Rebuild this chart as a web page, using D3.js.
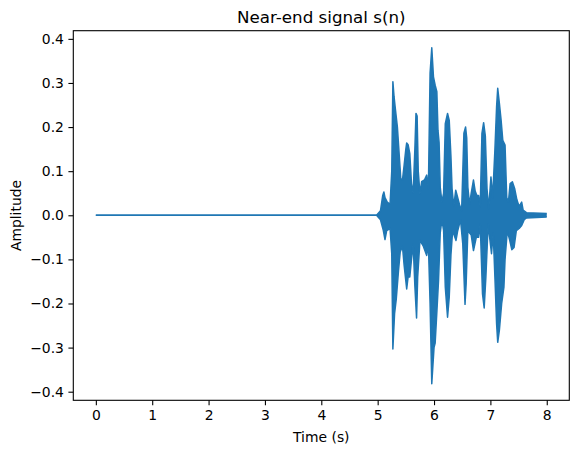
<!DOCTYPE html>
<html><head><meta charset="utf-8">
<script src="https://cdn.jsdelivr.net/npm/d3@7/dist/d3.min.js"></script>
<style>body{margin:0;background:#fff}svg text{font-family:"DejaVu Sans",sans-serif;fill:#000}</style>
</head><body><svg id="c" width="579" height="453"></svg>
<script>
// Upper envelope of the waveform (time in s, amplitude)
const upperTime = [0,4.98,5.05,5.09,5.11,5.13,5.17,5.22,5.25,5.27,5.29,5.31,5.35,5.385,5.41,5.44,5.47,5.50,5.515,5.54,5.57,5.60,5.63,5.66,5.68,5.70,5.72,5.75,5.78,5.83,5.87,5.90,5.93,5.96,5.99,6.02,6.05,6.07,6.09,6.11,6.14,6.17,6.20,6.24,6.27,6.30,6.32,6.35,6.385,6.41,6.45,6.49,6.53,6.56,6.58,6.60,6.63,6.66,6.70,6.73,6.76,6.79,6.82,6.85,6.88,6.91,6.94,6.97,7.01,7.04,7.08,7.11,7.13,7.16,7.19,7.22,7.26,7.29,7.32,7.35,7.39,7.43,7.47,7.51,7.555,7.58,7.64,8.0];
const upperAmp  = [0,0,0.01,0.045,0.053,0.04,0.03,0.025,0.1,0.303,0.27,0.246,0.2,0.132,0.083,0.08,0.114,0.15,0.164,0.16,0.14,0.072,0.05,0.15,0.231,0.225,0.1,0.049,0.076,0.08,0.091,0.06,0.322,0.38,0.314,0.295,0.28,0.193,0.165,0.064,0.03,0.05,0.208,0.231,0.215,0.133,0.06,0.02,0.057,0.045,0.025,0.01,0.186,0.2,0.175,0.064,0.025,0.05,0.08,0.055,0.045,0.045,0.02,0.186,0.21,0.18,0.06,0.015,0.087,0.04,0.148,0.246,0.288,0.253,0.216,0.17,0.159,0.04,0.03,0.072,0.076,0.061,0.035,0.02,0.03,0.012,0.006,0.004];
// Lower envelope of the waveform
const lowerTime = [0,4.98,5.05,5.10,5.13,5.16,5.22,5.25,5.27,5.30,5.33,5.37,5.40,5.44,5.47,5.515,5.54,5.57,5.60,5.63,5.66,5.69,5.71,5.75,5.81,5.87,5.90,5.93,5.96,6.00,6.02,6.05,6.08,6.11,6.14,6.17,6.20,6.24,6.27,6.30,6.33,6.39,6.42,6.47,6.51,6.55,6.57,6.60,6.66,6.70,6.75,6.79,6.82,6.86,6.89,6.92,6.96,7.02,7.05,7.08,7.11,7.13,7.16,7.20,7.24,7.26,7.30,7.34,7.38,7.42,7.46,7.51,7.555,7.60,7.64,8.0];
const lowerAmp  = [0,0,-0.01,-0.034,-0.055,-0.035,-0.03,-0.087,-0.303,-0.223,-0.19,-0.125,-0.083,-0.07,-0.114,-0.167,-0.14,-0.14,-0.1,-0.065,-0.16,-0.233,-0.14,-0.057,-0.07,-0.091,-0.065,-0.2,-0.382,-0.3,-0.29,-0.22,-0.148,-0.04,-0.01,-0.035,-0.163,-0.231,-0.185,-0.09,-0.035,-0.057,-0.035,-0.01,-0.065,-0.202,-0.155,-0.035,-0.045,-0.08,-0.05,-0.05,-0.02,-0.178,-0.21,-0.14,-0.02,-0.087,-0.04,-0.14,-0.246,-0.288,-0.26,-0.2,-0.163,-0.1,-0.035,-0.055,-0.078,-0.073,-0.035,-0.03,-0.023,-0.01,-0.006,-0.004];
const xTicks = [0,1,2,3,4,5,6,7,8];
const yTicks = [-0.4,-0.3,-0.2,-0.1,0.0,0.1,0.2,0.3,0.4];
const titleText = "Near-end signal s(n)";
const xLabel = "Time (s)";
const yLabel = "Amplitude";

const svg = d3.select("#c");
const L = 73.3, R = 569.3, T = 30.7, B = 400.3;
const x = d3.scaleLinear().domain([-0.4, 8.4]).range([L, R]);
const y = d3.scaleLinear().domain([-0.4195, 0.4185]).range([B, T]);
const color = "#1f77b4";

const up = upperTime.map((t,i)=>[t, upperAmp[i]]);
const lo = lowerTime.map((t,i)=>[t, lowerAmp[i]]);
const line = d3.line().x(d=>x(d[0])).y(d=>y(d[1]));
const poly = up.concat(lo.slice().reverse());
const g = svg.append("g");
g.append("path").attr("d", line(poly) + "Z").attr("fill", color).attr("stroke", "none");
g.append("path").attr("d", line(up)).attr("fill","none").attr("stroke",color).attr("stroke-width",1.5).attr("stroke-linejoin","round");
g.append("path").attr("d", line(lo)).attr("fill","none").attr("stroke",color).attr("stroke-width",1.5).attr("stroke-linejoin","round");

// axes
const xAxis = d3.axisBottom(x).tickValues(xTicks).tickFormat(d3.format("d")).tickSize(4.9).tickPadding(4.5);
const yAxis = d3.axisLeft(y).tickValues(yTicks).tickFormat(d=>d3.format(".1f")(d).replace("-","\u2212")).tickSize(4.9).tickPadding(4.5);
const gx = svg.append("g").attr("transform",`translate(0,${B})`).call(xAxis);
const gy = svg.append("g").attr("transform",`translate(${L},0)`).call(yAxis);
[gx,gy].forEach(a=>{
  a.select(".domain").remove();
  a.selectAll("line").attr("stroke","#000").attr("stroke-width",1.1);
  a.selectAll("text").attr("font-size","13.9px").attr("font-family","DejaVu Sans").attr("fill","#000");
});
svg.append("rect").attr("x",L).attr("y",T).attr("width",R-L).attr("height",B-T)
  .attr("fill","none").attr("stroke","#000").attr("stroke-width",1.1);

svg.append("text").attr("x",(L+R)/2).attr("y",23).attr("text-anchor","middle").attr("font-size","16.7px").text(titleText);
svg.append("text").attr("x",(L+R)/2).attr("y",441.5).attr("text-anchor","middle").attr("font-size","13.9px").text(xLabel);
svg.append("text").attr("transform",`translate(21,${(T+B)/2}) rotate(-90)`).attr("text-anchor","middle").attr("font-size","13.9px").text(yLabel);
</script></body></html>
